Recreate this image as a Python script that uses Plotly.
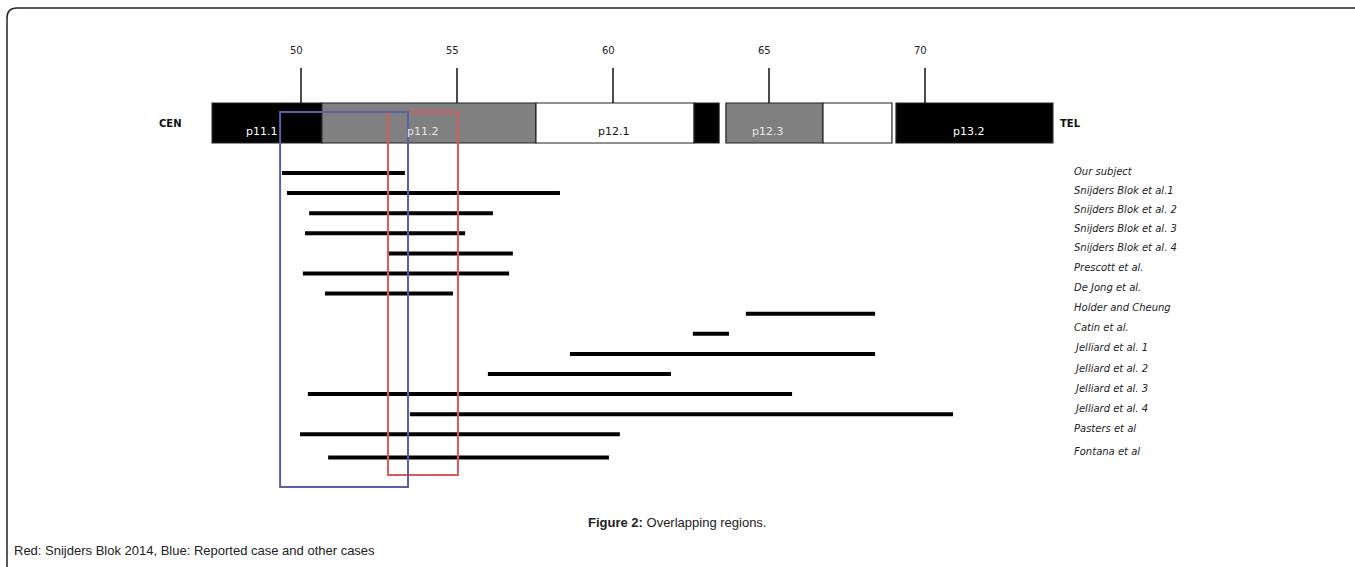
import plotly.graph_objects as go

# --- genomic scale (Mb) ---
tick_values = [50, 55, 60, 65, 70]

# --- ideogram bands (Mb) ---
band_start = [47.15, 50.67, 57.53, 62.60, 63.62, 66.73, 69.07]
band_end = [50.67, 57.53, 62.60, 63.40, 66.73, 68.94, 74.10]
band_stain = ["gpos100", "gpos50", "gneg", "gpos100", "gpos50", "gneg", "gpos100"]
band_names = ["p11.1", "p11.2", "p12.1", "", "p12.3", "", "p13.2"]
band_label_pos = [48.72, 53.88, 60.0, None, 64.94, None, 71.41]

# --- reported cases (Mb) ---
case_names = [
    "Our subject", "Snijders Blok et al.1", "Snijders Blok et al. 2",
    "Snijders Blok et al. 3", "Snijders Blok et al. 4", "Prescott et al.",
    "De Jong et al.", "Holder and Cheung", "Catin et al.", "Jelliard et al. 1",
    "Jelliard et al. 2", "Jelliard et al. 3", "Jelliard et al. 4",
    "Pasters et al", "Fontana et al",
]
case_start = [49.39, 49.55, 50.26, 50.13, 52.82, 50.06, 50.77, 64.26, 62.56,
              58.62, 55.99, 50.22, 53.49, 49.97, 50.87]
case_end = [53.33, 58.30, 56.15, 55.26, 56.79, 56.67, 54.87, 68.40, 63.72,
            68.40, 61.86, 65.74, 70.90, 60.22, 59.87]

# --- overlapping regions (Mb) ---
blue_region = [49.33, 53.43]
red_region = [52.79, 55.03]

W, H = 1355, 567
PX_PER_MB = 31.2
X0_PX, X0_MB = 301, 50
x_range = [X0_MB - X0_PX / PX_PER_MB, X0_MB + (W - X0_PX) / PX_PER_MB]

stain_fill = {"gpos100": "#000000", "gpos50": "#808080", "gneg": "#ffffff"}
stain_text = {"gpos100": "#ffffff", "gpos50": "#e8e8e8", "gneg": "#111111"}

label_font = dict(family="DejaVu Sans", size=10, color="#222222", style="italic")

fig = go.Figure()
shapes = []
annotations = []

# ideogram
BAND_TOP, BAND_BOT = 103, 143
for s, e, st in zip(band_start, band_end, band_stain):
    shapes.append(dict(type="rect", xref="x", yref="y", x0=s, x1=e,
                       y0=BAND_TOP, y1=BAND_BOT, fillcolor=stain_fill[st],
                       line=dict(color="#222222", width=1.2), layer="below"))
for name, pos, st in zip(band_names, band_label_pos, band_stain):
    if name:
        annotations.append(dict(x=pos, y=131, xref="x", yref="y", text=name,
                                showarrow=False, font=dict(family="DejaVu Sans", size=11,
                                                            color=stain_text[st])))

# scale ticks
for v in tick_values:
    shapes.append(dict(type="line", xref="x", yref="y", x0=v, x1=v, y0=68,
                       y1=BAND_TOP, line=dict(color="#111111", width=1.5)))
    annotations.append(dict(x=v, y=50, xref="x", yref="y", text=str(v), xshift=-5,
                            showarrow=False,
                            font=dict(family="DejaVu Sans", size=10, color="#222222")))

annotations.append(dict(x=X0_MB + (170 - X0_PX) / PX_PER_MB, y=123, xref="x", yref="y",
                        text="<b>CEN</b>", showarrow=False,
                        font=dict(family="DejaVu Sans", size=10, color="#111111")))
annotations.append(dict(x=X0_MB + (1070 - X0_PX) / PX_PER_MB, y=123, xref="x", yref="y",
                        text="<b>TEL</b>", showarrow=False,
                        font=dict(family="DejaVu Sans", size=10, color="#111111")))

# case bars with their labels
ROW0, ROW_STEP = 173, 20.1
label_x = X0_MB + (1072 - X0_PX) / PX_PER_MB
for i, (name, s, e) in enumerate(zip(case_names, case_start, case_end)):
    y = ROW0 + i * ROW_STEP + (3 if i == len(case_names) - 1 else 0)
    fig.add_trace(go.Scatter(x=[s, e], y=[y, y], mode="lines",
                             line=dict(color="#000000", width=4),
                             showlegend=False, hoverinfo="skip"))
    annotations.append(dict(x=label_x, y=y - 2 - min(i, 4), xref="x", yref="y",
                            text=name, showarrow=False, xanchor="left",
                            font=label_font))

# overlap boxes
shapes.append(dict(type="rect", xref="x", yref="y", x0=red_region[0], x1=red_region[1],
                   y0=112, y1=475, line=dict(color="#d65a5c", width=2)))
shapes.append(dict(type="rect", xref="x", yref="y", x0=blue_region[0], x1=blue_region[1],
                   y0=112, y1=487, line=dict(color="#5a5fa6", width=2)))

# page frame with rounded corner
def px(xp, yp):
    return f"{xp / W:.5f},{1 - yp / H:.5f}"

shapes.append(dict(type="path", xref="paper", yref="paper",
                   path=f"M {px(7, H + 2)} L {px(7, 18)} Q {px(7, 8)} {px(17, 8)} L {px(W + 2, 8)}",
                   line=dict(color="#222222", width=1.5)))

# caption
annotations.append(dict(x=677 / W, y=1 - 522 / H, xref="paper", yref="paper",
                        yshift=-10,
                        text="<b>Figure 2:</b> Overlapping regions.", showarrow=False,
                        font=dict(family="Liberation Sans", size=13, color="#222222")))
annotations.append(dict(x=12 / W, y=1 - 550 / H, xref="paper", yref="paper",
                        xanchor="left", yshift=-10,
                        text="Red: Snijders Blok 2014, Blue: Reported case and other cases",
                        showarrow=False,
                        font=dict(family="Liberation Sans", size=13, color="#222222")))

fig.update_layout(
    width=W, height=H,
    margin=dict(l=0, r=0, t=0, b=0),
    paper_bgcolor="white", plot_bgcolor="white",
    xaxis=dict(range=x_range, visible=False, fixedrange=True),
    yaxis=dict(range=[H, 0], visible=False, fixedrange=True),
    shapes=shapes, annotations=annotations,
)

fig.write_html("out.html")
